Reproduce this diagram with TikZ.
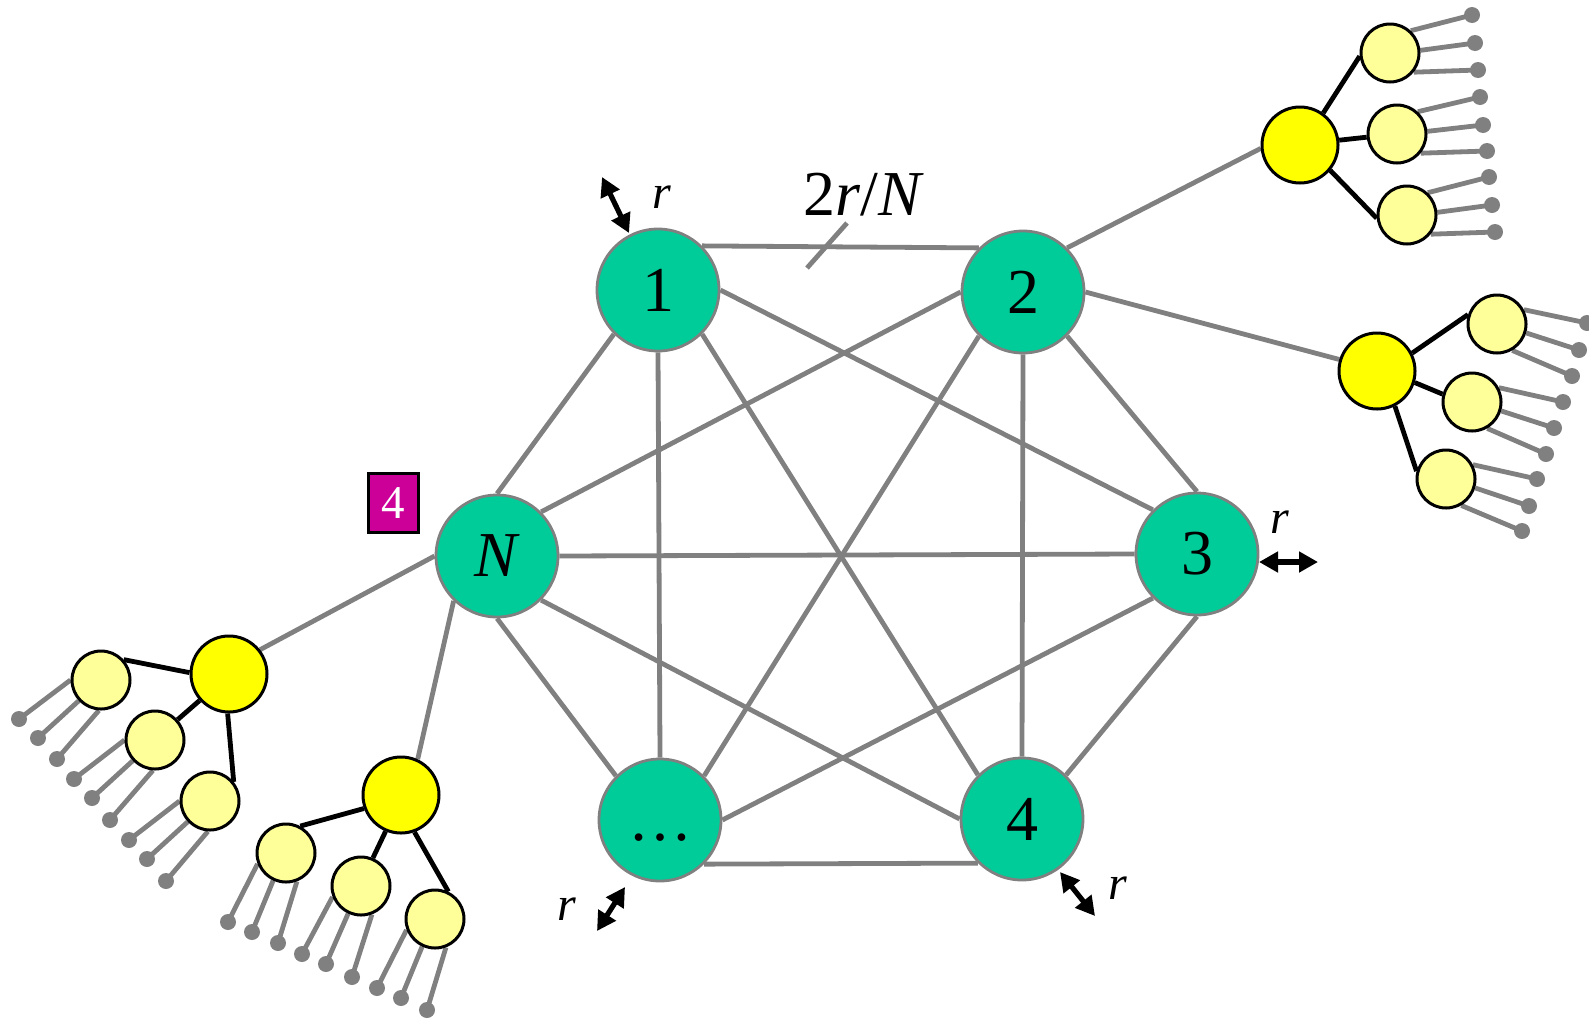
\documentclass[tikz,border=0pt]{standalone}
\usepackage{fontspec}
\setmainfont{Liberation Serif}
\usetikzlibrary{arrows.meta}
\pgfdeclarelayer{background}
\pgfsetlayers{background,main}

\definecolor{hubgreen}{HTML}{00CC99}
\definecolor{edgegray}{HTML}{808080}
\definecolor{rootyellow}{HTML}{FFFF00}
\definecolor{leafyellow}{HTML}{FFFF99}
\definecolor{tagmagenta}{HTML}{CC0099}

\tikzset{
  hub/.style={circle, fill=hubgreen, draw=edgegray, line width=1.4pt,
    minimum size=61pt, inner sep=0pt, font=\fontsize{32}{38}\selectfont},
  mesh/.style={draw=edgegray, line width=2.4pt},
  root/.style={circle, fill=rootyellow, draw=black, line width=1.5pt,
    minimum size=38pt, inner sep=0pt},
  sub/.style={circle, fill=leafyellow, draw=black, line width=1.5pt,
    minimum size=29pt, inner sep=0pt},
  tip/.style={circle, fill=edgegray, minimum size=8pt, inner sep=0pt},
  branch/.style={draw=black, line width=2.4pt},
  twig/.style={draw=edgegray, line width=2.4pt},
  dimarrow/.style={draw=black, line width=2.6pt,
    {Triangle[length=9.5pt,width=10pt]}-{Triangle[length=9.5pt,width=10pt]}},
  rlabel/.style={font=\fontsize{24}{28}\selectfont\itshape, inner sep=0pt, anchor=base},
}

\begin{document}
\begin{tikzpicture}[x=0.5pt, y=-0.5pt]
\useasboundingbox (0,0) rectangle (1589,1018);

% ring of hubs
\node[hub] (n1) at (658,290) {1};
\node[hub] (n2) at (1023,292) {2};
\node[hub] (n3) at (1197,554) {3};
\node[hub] (n4) at (1022,819) {4};
\node[hub] (nd) at (660,820) {\vphantom{1}…};
\node[hub] (nN) at (497,556) {\textit{N}};

% tree roots
\node[root] (rA) at (1300,145) {};
\node[root] (rB) at (1377,371) {};
\node[root] (rC) at (229,674) {};
\node[root] (rD) at (401,795) {};

% second level
\node[sub] (A1) at (1390,53) {};
\node[sub] (A2) at (1397,134) {};
\node[sub] (A3) at (1407,215) {};
\node[sub] (B1) at (1497,324) {};
\node[sub] (B2) at (1472,402) {};
\node[sub] (B3) at (1446,479) {};
\node[sub] (C1) at (101,680) {};
\node[sub] (C2) at (155,740) {};
\node[sub] (C3) at (210,801) {};
\node[sub] (D1) at (286,853) {};
\node[sub] (D2) at (361,886) {};
\node[sub] (D3) at (435,919) {};

% leaves with their twigs
\begin{pgfonlayer}{background}
\foreach \s/\a/\x/\y [count=\k] in {
  A1/47/1472/15, A1/5/1475/43, A1/-39/1478/70,
  A2/47/1480/97, A2/5/1483/125, A2/-39/1487/151,
  A3/47/1489/177, A3/5/1492/205, A3/-39/1495/232,
  B1/28/1587/323, B1/-17/1579/350, B1/-60/1572/376,
  B2/28/1563/402, B2/-17/1554/428, B2/-60/1546/454,
  B3/28/1537/479, B3/-17/1529/506, B3/-60/1522/531,
  C1/180/19/719, C1/223/38/738, C1/266/57/759,
  C2/180/74/779, C2/223/92/798, C2/266/110/820,
  C3/180/129/840, C3/223/147/859, C3/266/166/881,
  D1/201/228/922, D1/245/252/932, D1/291/278/943,
  D2/201/302/954, D2/245/326/964, D2/291/352/977,
  D3/201/377/988, D3/245/401/998, D3/291/427/1010}{
  \node[tip] (leaf\k) at (\x,\y) {};
  \draw[twig] (\s.\a) -- (leaf\k.center);
}

% full mesh between hubs
\draw[mesh] (n1.45) -- (n2.135);
\draw[mesh] (n1.0) -- (n3.135);
\draw[mesh] (n1.315) -- (n4.135);
\draw[mesh] (n1.270) -- (nd.90);
\draw[mesh] (n1.225) -- (nN.90);
\draw[mesh] (n2.315) -- (n3.90);
\draw[mesh] (n2.270) -- (n4.90);
\draw[mesh] (n2.225) -- (nd.45);
\draw[mesh] (n2.180) -- (nN.45);
\draw[mesh] (n3.270) -- (n4.45);
\draw[mesh] (n3.225) -- (nd.0);
\draw[mesh] (n3.180) -- (nN.0);
\draw[mesh] (n4.225) -- (nd.315);
\draw[mesh] (n4.180) -- (nN.315);
\draw[mesh] (nd.135) -- (nN.270);

% hubs to tree roots
\draw[mesh] (n2.45) -- (rA.185);
\draw[mesh] (n2.0) -- (rB.163);
\draw[mesh] (nN.180) -- (rC.38);
\draw[mesh] (nN.226) -- (rD.65);

% roots to second level
\draw[branch] (rA.54) -- (A1.186);
\draw[branch] (rA.7) -- (A2.186);
\draw[branch] (rA.-40) -- (A3.186);
\draw[branch] (rB.27) -- (B1.162);
\draw[branch] (rB.-17) -- (B2.165);
\draw[branch] (rB.-63) -- (B3.165);
\draw[branch] (rC.178) -- (C1.42);
\draw[branch] (rC.222) -- (C2.42);
\draw[branch] (rC.268) -- (C3.39);
\draw[branch] (rD.200) -- (D1.62);
\draw[branch] (rD.247) -- (D2.67);
\draw[branch] (rD.290) -- (D3.64);
\end{pgfonlayer}

% spacing mark on the top link
\coordinate (tickA) at (807,268);
\coordinate (tickB) at (847,223);
\draw[mesh] (tickA) -- (tickB);
\node[font=\fontsize{32}{38}\selectfont, inner sep=0pt, anchor=base] (spacing) at (864,215) {2\textit{r}/\textit{N}};

% radius indicators
\coordinate (r1a) at (602,177);  \coordinate (r1b) at (629,233);
\coordinate (r3a) at (1259,562); \coordinate (r3b) at (1318,562);
\coordinate (rda) at (597,931);  \coordinate (rdb) at (625,887);
\coordinate (r4a) at (1060,872); \coordinate (r4b) at (1095,916);
\draw[dimarrow] (r1a) -- (r1b);
\draw[dimarrow] (r3a) -- (r3b);
\draw[dimarrow] (rda) -- (rdb);
\draw[dimarrow] (r4a) -- (r4b);
\node[rlabel] (lr1) at (662,208) {r};
\node[rlabel] (lr3) at (1280,533) {r};
\node[rlabel] (lrd) at (567,920) {r};
\node[rlabel] (lr4) at (1118,899) {r};

% tag box
\node[fill=tagmagenta, draw=black, line width=1.5pt, minimum width=25pt,
  minimum height=29.5pt, inner sep=0pt, text=white,
  font=\fontsize{23.5}{28}\selectfont] (tag) at (393,503) {4};
\end{tikzpicture}
\end{document}
